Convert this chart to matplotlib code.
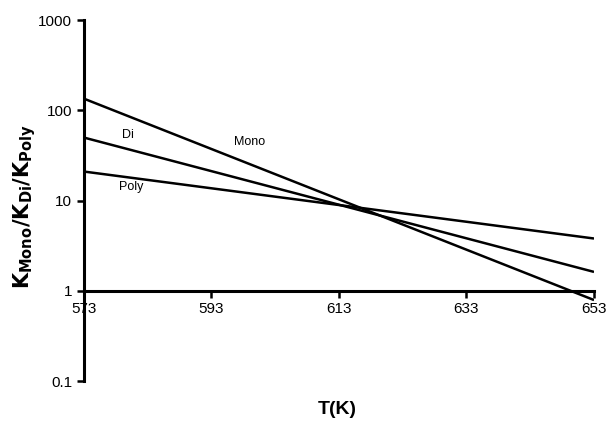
import numpy as np
import matplotlib
matplotlib.use("Agg")
import matplotlib.pyplot as plt

plt.rcParams['font.family'] = ['Liberation Sans', 'DejaVu Sans']

# end points (straight lines on log scale)
temps = [573, 653]
mono = [135, 0.79]
di = [50, 1.62]
poly = [21, 3.8]

labels = ["Mono", "Di", "Poly"]
label_pos = [(596.5, 45), (579, 54), (578.5, 14)]

xticks = [573, 593, 613, 633, 653]
yticks = [0.1, 1, 10, 100, 1000]
yticklabels = ["0.1", "1", "10", "100", "1000"]

fig = plt.figure(figsize=(6.08, 4.21), dpi=100)
ax = fig.add_axes([0.138, 0.095, 0.839, 0.857])

for series in (mono, di, poly):
    ax.plot(temps, series, color="black", lw=1.8, solid_capstyle="butt")

for txt, (tx, ty) in zip(labels, label_pos):
    ax.text(tx, ty, txt, fontsize=9, ha="left", va="center")

ax.set_yscale("log")
ax.set_ylim(0.1, 1000)
ax.set_xlim(573, 653)
ax.set_yticks(yticks)
ax.set_yticklabels(yticklabels)
ax.minorticks_off()
ax.set_xticks(xticks)
ax.set_xticklabels([str(t) for t in xticks])

ax.spines['top'].set_visible(False)
ax.spines['right'].set_visible(False)
ax.spines['bottom'].set_position(('data', 1))
ax.spines['left'].set_linewidth(2.2)
ax.spines['bottom'].set_linewidth(2.2)
ax.tick_params(axis='both', width=1.8, length=5, labelsize=11, direction='out')
ax.tick_params(axis='x', pad=3)

fig.text(0.555, 0.028, "T(K)", fontsize=14, fontweight="bold", ha="center", va="center")
fig.text(0.04, 0.51, r"$\mathbf{K_{Mono}/K_{Di}/K_{Poly}}$", fontsize=15,
         rotation=90, ha="center", va="center")

fig.savefig("out.png", dpi=100)
